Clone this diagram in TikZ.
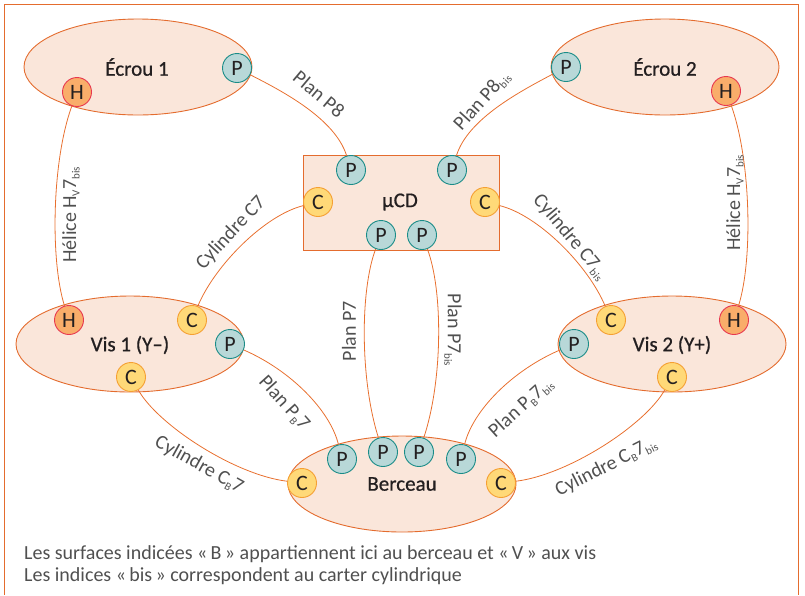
\documentclass[tikz,border=0pt]{standalone}
\usepackage{fontspec}
\setmainfont{Carlito}
\newfontfamily\semib{Carlito}[RawFeature={embolden=0.7}]
\definecolor{peach}{HTML}{FAE6DA}
\definecolor{frameor}{HTML}{E46C2E}
\definecolor{linkor}{HTML}{E8702F}
\definecolor{tealfl}{HTML}{B8D8D8}
\definecolor{tealdk}{HTML}{1A8C88}
\definecolor{yelfl}{HTML}{FFD978}
\definecolor{yeldk}{HTML}{F5A033}
\definecolor{helfl}{HTML}{F9AD6A}
\definecolor{heldk}{HTML}{E8384F}
\definecolor{ink}{HTML}{231F20}
\definecolor{graytxt}{HTML}{505050}
\newcommand\titlefont{\semib\fontsize{21}{23}\selectfont}
\newcommand\circfont{\fontsize{22}{22}\selectfont}
\newcommand\lblfont{\fontsize{20}{22}\selectfont}
\newcommand\notefont{\fontsize{20}{22}\selectfont}
\newcommand\idx[1]{\raisebox{-0.35ex}{\fontsize{11}{11}\selectfont #1}}
\tikzset{
  part/.style={draw=frameor, fill=peach, line width=0.9pt, inner sep=0pt},
  piece/.style={part, ellipse, minimum width=228pt, minimum height=96pt},
  title/.style={font=\titlefont, text=ink, inner sep=0pt},
  surf/.style={circle, line width=0.9pt, minimum size=29pt, inner sep=0pt,
    font=\circfont, text=ink},
  surfP/.style={surf, draw=tealdk, fill=tealfl},
  surfC/.style={surf, draw=yeldk, fill=yelfl},
  surfH/.style={surf, draw=heldk, fill=helfl},
  link/.style={draw=linkor, line width=0.8pt},
  lbl/.style={font=\lblfont, text=graytxt, inner sep=0pt},
  note/.style={font=\notefont, text=graytxt, inner sep=0pt, anchor=base west}
}
\usetikzlibrary{shapes.geometric}
\begin{document}
\begin{tikzpicture}[x=1pt,y=-1pt]
\useasboundingbox (0,0) rectangle (805,595);
% outer frame, open at the bottom
\draw[frameor, line width=1.2pt] (4.5,595) -- (4.5,4.5) -- (798.5,4.5) -- (798.5,595);

% parts
\node[piece] (ecrou1) at (138,67) {};
\node[piece] (ecrou2) at (665,67) {};
\node[piece] (vis1) at (130,344) {};
\node[piece] (vis2) at (672,344) {};
\node[piece] (berceau) at (402,484) {};
\node[part, minimum width=196pt, minimum height=95pt] (ucd) at (401,202.5) {};

\node[title] (t-e1) at (137,67) {Écrou 1};
\node[title] (t-e2) at (665,67) {Écrou 2};
\node[title] (t-v1) at (130,345) {Vis 1 (Y–)};
\node[title] (t-v2) at (672,345) {Vis 2 (Y+)};
\node[title] (t-b) at (402,484) {Berceau};
\node[title] (t-u) at (400,202) {µCD};

% contact surfaces
\node[surfP] (e1p) at (237,68) {P};
\node[surfH] (e1h) at (77,92) {H};
\node[surfP] (e2p) at (566,67) {P};
\node[surfH] (e2h) at (726,91) {H};

\node[surfP] (up1) at (351,170) {P};
\node[surfP] (up2) at (452,170) {P};
\node[surfC] (uc1) at (318,202) {C};
\node[surfC] (uc2) at (485,202) {C};
\node[surfP] (up3) at (381,235) {P};
\node[surfP] (up4) at (422,235) {P};

\node[surfH] (v1h) at (69,320) {H};
\node[surfC] (v1c) at (192,320) {C};
\node[surfP] (v1p) at (230,344) {P};
\node[surfC] (v1b) at (131,377) {C};

\node[surfC] (v2c) at (611,320) {C};
\node[surfH] (v2h) at (734,320) {H};
\node[surfP] (v2p) at (574,344) {P};
\node[surfC] (v2b) at (672,377) {C};

\node[surfP] (bp1) at (342,459) {P};
\node[surfP] (bp2) at (383,452) {P};
\node[surfP] (bp3) at (419,452) {P};
\node[surfP] (bp4) at (461,459) {P};
\node[surfC] (bc1) at (302,483) {C};
\node[surfC] (bc2) at (501,483) {C};

% links between surfaces
\draw[link] (e1p) .. controls (280,90) and (335,118) .. (up1);
\draw[link] (e2p) .. controls (523,90) and (468,118) .. (up2);
\draw[link] (e1h) .. controls (52,160) and (50,260) .. (v1h);
\draw[link] (e2h) .. controls (751,160) and (753,260) .. (v2h);
\draw[link] (uc1) .. controls (265,215) and (215,265) .. (v1c);
\draw[link] (uc2) .. controls (538,215) and (588,265) .. (v2c);
\draw[link] (up3) .. controls (360,290) and (360,380) .. (bp2);
\draw[link] (up4) .. controls (443,290) and (443,380) .. (bp3);
\draw[link] (v1p) .. controls (290,370) and (330,410) .. (bp1);
\draw[link] (v2p) .. controls (513,370) and (473,410) .. (bp4);
\draw[link] (v1b) .. controls (158,425) and (235,475) .. (bc1);
\draw[link] (v2b) .. controls (645,425) and (568,475) .. (bc2);

% link labels
\node[lbl, rotate=-40] (l1) at (319,94) {Plan P8};
\node[lbl, rotate=48] (l2) at (482,101) {Plan P8\idx{bis}};
\node[lbl, rotate=90] (l3) at (71,215) {Hélice H\idx{V}7\idx{bis}};
\node[lbl, rotate=90] (l4) at (735,203) {Hélice H\idx{V}7\idx{bis}};
\node[lbl, rotate=47] (l5) at (231,233) {Cylindre C7};
\node[lbl, rotate=-50] (l6) at (570,237) {Cylindre C7\idx{bis}};
\node[lbl, rotate=90] (l7) at (349,331) {Plan P7};
\node[lbl, rotate=-90] (l8) at (453,330) {Plan P7\idx{bis}};
\node[lbl, rotate=-48] (l9) at (284,403) {Plan P\idx{B}7};
\node[lbl, rotate=42] (l10) at (521,408) {Plan P\idx{B}7\idx{bis}};
\node[lbl, rotate=-29] (l11) at (199,465) {Cylindre C\idx{B}7};
\node[lbl, rotate=27] (l12) at (606,467) {Cylindre C\idx{B}7\idx{bis}};

% notes
\node[note] (n1) at (24,559) {Les surfaces indicées «\,B\,» appartiennent ici au berceau et «\,V\,» aux vis};
\node[note] (n2) at (24,581) {Les indices «\,bis\,» correspondent au carter cylindrique};
\end{tikzpicture}
\end{document}
